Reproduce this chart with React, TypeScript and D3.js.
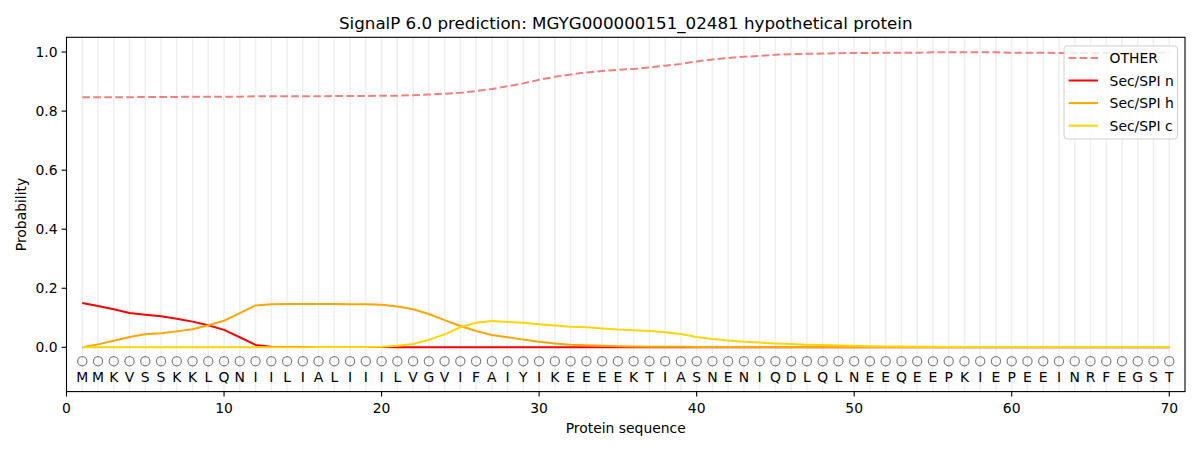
import React from "react";
import * as d3 from "d3";

const title = "SignalP 6.0 prediction: MGYG000000151_02481 hypothetical protein";
const sequence = "MMKVSSKKLQNIILIALIIILVGVIFAIYIKEEEEKTIASNENIQDLQLNEEQEEPKIEPEEINRFEGST".split("");
const seriesNames = ["OTHER", "Sec/SPI n", "Sec/SPI h", "Sec/SPI c"];
const other = [
  0.847, 0.847, 0.847, 0.847, 0.848, 0.848, 0.848, 0.849, 0.849, 0.849,
  0.849, 0.85, 0.85, 0.85, 0.85, 0.85, 0.851, 0.851, 0.851, 0.852,
  0.852, 0.854, 0.856, 0.859, 0.862, 0.868, 0.875, 0.884, 0.894, 0.906,
  0.916, 0.924, 0.931, 0.936, 0.94, 0.943, 0.948, 0.954, 0.96, 0.968,
  0.975, 0.98, 0.984, 0.987, 0.991, 0.993, 0.994, 0.995, 0.996, 0.997,
  0.997, 0.998, 0.998, 0.998, 0.999, 0.999, 0.999, 0.999, 0.999, 0.998,
  0.998, 0.998, 0.997, 0.997, 0.997, 0.997, 0.997, 0.997, 0.997, 0.998,
];
const secN = [
  0.15, 0.14, 0.129, 0.116, 0.11, 0.105, 0.097, 0.087, 0.075, 0.059,
  0.034, 0.008, 0.002, 0.001, 0.001, 0.001, 0.001, 0.001, 0.001, 0.001,
  0, 0, 0, 0, 0, 0, 0, 0, 0, 0,
  0, 0, 0, 0, 0, 0, 0, 0, 0, 0,
  0, 0, 0, 0, 0, 0, 0, 0, 0, 0,
  0, 0, 0, 0, 0, 0, 0, 0, 0, 0,
  0, 0, 0, 0, 0, 0, 0, 0, 0, 0,
];
const secH = [
  0.0, 0.01, 0.022, 0.035, 0.044, 0.048, 0.054, 0.061, 0.075, 0.09,
  0.116, 0.142, 0.146, 0.147, 0.147, 0.147, 0.147, 0.146, 0.146, 0.144,
  0.138, 0.129, 0.113, 0.092, 0.072, 0.055, 0.042, 0.034, 0.026, 0.019,
  0.013, 0.009, 0.007, 0.005, 0.004, 0.003, 0.002, 0.002, 0.002, 0.001,
  0.001, 0.001, 0.001, 0.001, 0.001, 0.001, 0.001, 0.001, 0.001, 0.001,
  0.001, 0.001, 0.001, 0.001, 0.001, 0.001, 0.001, 0.001, 0.001, 0.001,
  0.001, 0.001, 0.001, 0.001, 0.001, 0.001, 0.001, 0.001, 0.001, 0.001,
];
const secC = [
  0.0, 0.0, 0.0, 0.0, 0.0, 0.0, 0.0, 0.0, 0.0, 0.0,
  0.0, 0.0, 0.0, 0.0, 0.0, 0.001, 0.001, 0.001, 0.001, 0.002,
  0.005, 0.011, 0.025, 0.044, 0.068, 0.083, 0.089, 0.086, 0.083, 0.078,
  0.074, 0.07, 0.068, 0.064, 0.06, 0.058, 0.055, 0.051, 0.045, 0.035,
  0.028, 0.023, 0.019, 0.016, 0.013, 0.011, 0.009, 0.008, 0.006, 0.005,
  0.004, 0.003, 0.003, 0.002, 0.002, 0.001, 0.001, 0.001, 0.001, 0.001,
  0.001, 0.001, 0.001, 0.001, 0.001, 0.001, 0.001, 0.001, 0.001, 0.001,
];
const xTicks = [0, 10, 20, 30, 40, 50, 60, 70];
const yTicks = [0, 0.2, 0.4, 0.6, 0.8, 1.0];

const W = 1200;
const H = 450;
const FONT = "DejaVu Sans, sans-serif";

export default function App() {
  const left = 66.5, right = 1185, top = 37.3, bottom = 391.6;
  const x = d3.scaleLinear().domain([0, 71]).range([left, right]);
  const y = d3.scaleLinear().domain([-0.15, 1.05]).range([bottom, top]);
  const positions = sequence.map((_, i) => i + 1);
  const line = (vals: number[]) =>
    d3.line<number>().x((_, i) => x(i + 1)).y((v) => y(v))(vals) || "";

  const series = [
    { name: seriesNames[0], vals: other, color: "#f08080", dash: "7.7,3.3" },
    { name: seriesNames[1], vals: secN, color: "#ff0000", dash: "" },
    { name: seriesNames[2], vals: secH, color: "#ffa500", dash: "" },
    { name: seriesNames[3], vals: secC, color: "#ffd700", dash: "" },
  ];

  const legX = 1064, legY = 46, legW = 113.5, legH = 93;

  return (
    <svg width={W} height={H} style={{ position: "absolute", left: 0, top: 0, background: "#fff" }} fontFamily={FONT}>
      <rect x={0} y={0} width={W} height={H} fill="#fff" />
      <defs>
        <clipPath id="plotclip">
          <rect x={left} y={top} width={right - left} height={bottom - top} />
        </clipPath>
      </defs>
      {/* vertical grid lines */}
      {positions.map((p) => (
        <line key={"g" + p} x1={x(p)} x2={x(p)} y1={top} y2={bottom} stroke="#efefef" strokeWidth={1.5} />
      ))}
      {/* series */}
      <g clipPath="url(#plotclip)">
        {series.map((s) => (
          <path key={s.name} d={line(s.vals)} fill="none" stroke={s.color} strokeWidth={2}
            strokeDasharray={s.dash || undefined} strokeLinejoin="round" />
        ))}
      </g>
      {/* sequence markers */}
      {positions.map((p, i) => (
        <g key={"s" + p}>
          <circle cx={x(p)} cy={y(-0.047)} r={4.6} fill="none" stroke="#808080" strokeWidth={1.2} />
          <text x={x(p)} y={y(-0.1)} textAnchor="middle" dominantBaseline="central" fontSize={13.9} fill="#000">
            {sequence[i]}
          </text>
        </g>
      ))}
      {/* axes frame */}
      <rect x={left} y={top} width={right - left} height={bottom - top} fill="none" stroke="#000" strokeWidth={1.1} />
      {/* x ticks */}
      {xTicks.map((t) => (
        <g key={"xt" + t}>
          <line x1={x(t)} x2={x(t)} y1={bottom} y2={bottom + 4.9} stroke="#000" strokeWidth={1.1} />
          <text x={x(t)} y={bottom + 16} textAnchor="middle" dominantBaseline="central" fontSize={13.9} fill="#000">
            {t}
          </text>
        </g>
      ))}
      {/* y ticks */}
      {yTicks.map((t) => (
        <g key={"yt" + t}>
          <line x1={left - 4.9} x2={left} y1={y(t)} y2={y(t)} stroke="#000" strokeWidth={1.1} />
          <text x={left - 9} y={y(t)} textAnchor="end" dominantBaseline="central" fontSize={13.9} fill="#000">
            {t.toFixed(1)}
          </text>
        </g>
      ))}
      <text x={(left + right) / 2} y={428} textAnchor="middle" dominantBaseline="central" fontSize={13.9} fill="#000">
        Protein sequence
      </text>
      <text transform={`translate(21,${(top + bottom) / 2}) rotate(-90)`} textAnchor="middle" dominantBaseline="central" fontSize={13.9} fill="#000">
        Probability
      </text>
      <text x={(left + right) / 2} y={23} textAnchor="middle" dominantBaseline="central" fontSize={16.7} fill="#000">
        {title}
      </text>
      {/* legend */}
      <rect x={legX} y={legY} width={legW} height={legH} rx={3} fill="#fff" fillOpacity={0.8} stroke="#d0d0d0" strokeWidth={1} />
      {series.map((s, i) => {
        const ly = 57.9 + i * 22.6;
        return (
          <g key={"l" + s.name}>
            <line x1={1068.6} x2={1098} y1={ly} y2={ly} stroke={s.color} strokeWidth={2} strokeDasharray={s.dash || undefined} />
            <text x={1109.6} y={ly} dominantBaseline="central" fontSize={13.9} fill="#000">
              {s.name}
            </text>
          </g>
        );
      })}
    </svg>
  );
}
